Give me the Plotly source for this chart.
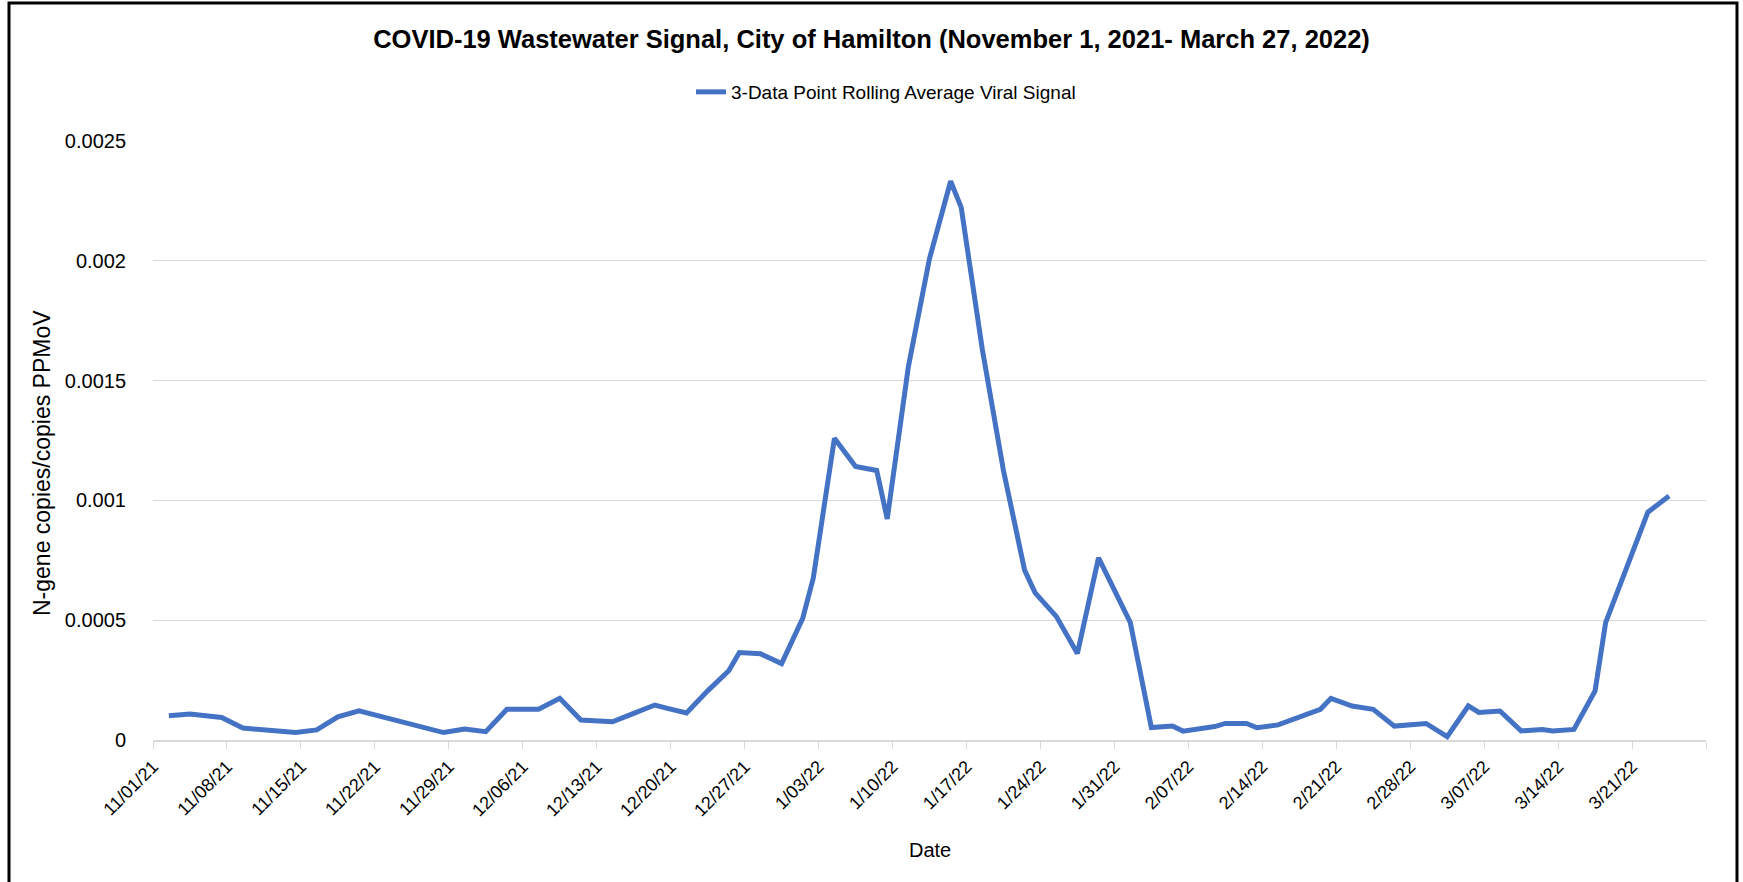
"""
Hamilton wastewater COVID-19 signal chart (Nov 2021 - Mar 2022).
"""

from __future__ import annotations

import pandas as pd
import plotly.graph_objects as go

SAMPLE_DATES = [
    "2021-11-02", "2021-11-04", "2021-11-07", "2021-11-09", "2021-11-14",
    "2021-11-16", "2021-11-18", "2021-11-20", "2021-11-28", "2021-11-30",
    "2021-12-02", "2021-12-04", "2021-12-07", "2021-12-09", "2021-12-11",
    "2021-12-14", "2021-12-16", "2021-12-18", "2021-12-19", "2021-12-21",
    "2021-12-23", "2021-12-25", "2021-12-26", "2021-12-28", "2021-12-30",
    "2022-01-01", "2022-01-02", "2022-01-04", "2022-01-06", "2022-01-08",
    "2022-01-09", "2022-01-11", "2022-01-13", "2022-01-15", "2022-01-16",
    "2022-01-18", "2022-01-20", "2022-01-22", "2022-01-23", "2022-01-25",
    "2022-01-27", "2022-01-29", "2022-02-01", "2022-02-03", "2022-02-05",
    "2022-02-06", "2022-02-09", "2022-02-10", "2022-02-12", "2022-02-13",
    "2022-02-15", "2022-02-17", "2022-02-19", "2022-02-20", "2022-02-22",
    "2022-02-24", "2022-02-26", "2022-03-01", "2022-03-03", "2022-03-05",
    "2022-03-06", "2022-03-08", "2022-03-10", "2022-03-12", "2022-03-13",
    "2022-03-15", "2022-03-17", "2022-03-18", "2022-03-20", "2022-03-22",
    "2022-03-24",
]

ROLLING_SIGNAL = [
    0.000101, 0.000108, 0.000094, 0.000050, 0.000031,
    0.000042, 0.000097, 0.000122, 0.000031, 0.000046,
    0.000035, 0.000128, 0.000128, 0.000174, 0.000083,
    0.000076, 0.000111, 0.000146, 0.000134, 0.000113,
    0.000205, 0.000289, 0.000365, 0.000360, 0.000319,
    0.000508, 0.000676, 0.001259, 0.001142, 0.001125,
    0.000923, 0.001558, 0.002009, 0.002332, 0.002223,
    0.001630, 0.001125, 0.000709, 0.000614, 0.000516,
    0.000361, 0.000760, 0.000491, 0.000052, 0.000058,
    0.000037, 0.000056, 0.000069, 0.000069, 0.000051,
    0.000063, 0.000094, 0.000128, 0.000174, 0.000142,
    0.000128, 0.000058, 0.000069, 0.000014, 0.000142,
    0.000115, 0.000121, 0.000038, 0.000044, 0.000038,
    0.000044, 0.000205, 0.000490, 0.000720, 0.000951,
    0.001018,
]

WEEK_TICKS = [
    "2021-11-01", "2021-11-08", "2021-11-15", "2021-11-22", "2021-11-29",
    "2021-12-06", "2021-12-13", "2021-12-20", "2021-12-27", "2022-01-03",
    "2022-01-10", "2022-01-17", "2022-01-24", "2022-01-31", "2022-02-07",
    "2022-02-14", "2022-02-21", "2022-02-28", "2022-03-07", "2022-03-14",
    "2022-03-21", "2022-03-28",
]
WEEK_LABELS = [
    "11/01/21", "11/08/21", "11/15/21", "11/22/21", "11/29/21",
    "12/06/21", "12/13/21", "12/20/21", "12/27/21", "1/03/22",
    "1/10/22", "1/17/22", "1/24/22", "1/31/22", "2/07/22",
    "2/14/22", "2/21/22", "2/28/22", "3/07/22", "3/14/22",
    "3/21/22", "",
]

Y_TICKS = [0, 0.0005, 0.001, 0.0015, 0.002, 0.0025]
Y_LABELS = ["0", "0.0005", "0.001", "0.0015", "0.002", "0.0025"]

FONT = "'Liberation Sans', Arial, sans-serif"

W, H = 1743, 882
L, R, T, B = 153, 37, 141, 142


def px_x(px: float) -> float:
    return (px - L) / (W - L - R)


def px_y(py: float) -> float:
    return (H - B - py) / (H - T - B)


def fig_wastewater() -> go.Figure:
    # Excel date axis puts each point in the middle of its day
    x = pd.to_datetime(SAMPLE_DATES) + pd.Timedelta(hours=12)
    fig = go.Figure(
        go.Scatter(
            x=x,
            y=ROLLING_SIGNAL,
            mode="lines",
            name="3-Data Point Rolling Average Viral Signal",
            line=dict(color="#4472C4", width=5),
        )
    )
    fig.update_layout(
        width=W,
        height=H,
        paper_bgcolor="white",
        plot_bgcolor="white",
        margin=dict(l=L, r=R, t=T, b=B, autoexpand=False),
        font=dict(family=FONT, color="#000000"),
        title=dict(
            text="<b>COVID-19 Wastewater Signal, City of Hamilton (November 1, 2021- March 27, 2022)</b>",
            x=0.5,
            xanchor="center",
            y=1 - 39 / H,
            yanchor="middle",
            font=dict(family=FONT, size=25.5, color="#000000"),
        ),
        showlegend=True,
        legend=dict(
            orientation="h",
            x=px_x(886),
            xanchor="center",
            y=px_y(92),
            yanchor="middle",
            font=dict(family=FONT, size=19, color="#000000"),
        ),
        annotations=[
            dict(
                text="N-gene copies/copies PPMoV",
                xref="paper",
                yref="paper",
                x=px_x(42),
                y=px_y(463),
                xanchor="center",
                yanchor="middle",
                textangle=-90,
                showarrow=False,
                font=dict(family=FONT, size=23, color="#000000"),
            ),
            dict(
                text="Date",
                xref="paper",
                yref="paper",
                x=px_x(930),
                y=px_y(850),
                xanchor="center",
                yanchor="middle",
                showarrow=False,
                font=dict(family=FONT, size=20, color="#000000"),
            ),
        ],
        shapes=[
            dict(
                type="rect",
                xref="paper",
                yref="paper",
                x0=px_x(9),
                x1=px_x(1737),
                y0=px_y(900),
                y1=px_y(3),
                line=dict(color="black", width=3),
                fillcolor="rgba(0,0,0,0)",
                layer="above",
            )
        ],
    )
    fig.update_xaxes(
        type="date",
        range=[WEEK_TICKS[0], WEEK_TICKS[-1]],
        tickmode="array",
        tickvals=WEEK_TICKS,
        ticktext=WEEK_LABELS,
        tickangle=-45,
        ticks="outside",
        ticklen=7,
        tickcolor="#d9d9d9",
        tickfont=dict(family=FONT, size=18, color="#000000"),
        showgrid=False,
        showline=True,
        linecolor="#d9d9d9",
        linewidth=2,
        zeroline=False,
    )
    fig.update_yaxes(
        range=[0, 0.0025],
        tickmode="array",
        tickvals=Y_TICKS,
        ticktext=Y_LABELS,
        tickfont=dict(family=FONT, size=20, color="#000000"),
        ticks="",
        ticklabelstandoff=26,
        showgrid=True,
        gridcolor="#d9d9d9",
        gridwidth=1,
        zeroline=False,
        showline=False,
    )
    return fig


fig = fig_wastewater()
# drop the default 8px body margin so the chart sits at the window origin
fig.write_html(
    "out.html",
    config={"displayModeBar": False},
    post_script="document.body.style.margin='0';",
)
